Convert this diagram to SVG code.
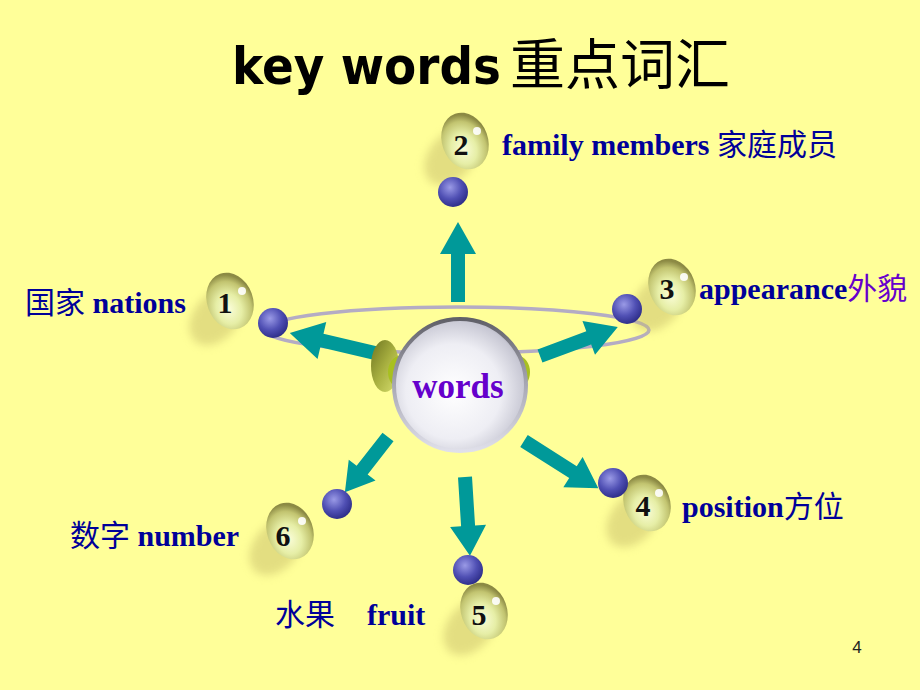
<svg xmlns="http://www.w3.org/2000/svg" width="920" height="690" viewBox="0 0 920 690">
  <defs>
    <style>
      .lbl { font-family: "Liberation Serif", "Noto Sans CJK SC", serif; font-weight: bold; font-size: 30px; fill: #000099; }
      .cjk { font-weight: normal; }
      .num { font-family: "Liberation Serif", serif; font-weight: bold; font-size: 30px; fill: #111; text-anchor: middle; }
      .arrow { fill: #009999; }
      .ball { fill: url(#ballGrad); }
    </style>
    <radialGradient id="ballGrad" cx="0.4" cy="0.35" r="0.7">
      <stop offset="0" stop-color="#9A9AE6"/>
      <stop offset="0.55" stop-color="#5050B4"/>
      <stop offset="1" stop-color="#2A2A84"/>
    </radialGradient>
    <radialGradient id="dropGrad" cx="0.42" cy="0.62" r="0.6">
      <stop offset="0" stop-color="#FAFDD8"/>
      <stop offset="0.45" stop-color="#E6EEA6"/>
      <stop offset="0.8" stop-color="#C2C470"/>
      <stop offset="1" stop-color="#8C8A44"/>
    </radialGradient>
    <radialGradient id="sphereGrad" cx="0.45" cy="0.55" r="0.6">
      <stop offset="0" stop-color="#FFFFFF"/>
      <stop offset="0.6" stop-color="#EEEEF4"/>
      <stop offset="0.9" stop-color="#C8C8D4"/>
      <stop offset="1" stop-color="#A8A8B4"/>
    </radialGradient>
    <linearGradient id="rimGrad" x1="0" y1="0" x2="0" y2="1">
      <stop offset="0" stop-color="#606068"/>
      <stop offset="0.5" stop-color="#A8A8B4"/>
      <stop offset="1" stop-color="#E0E0EA"/>
    </linearGradient>
    <linearGradient id="oliveGrad" x1="0" y1="0" x2="1" y2="1">
      <stop offset="0" stop-color="#6E7420"/>
      <stop offset="0.5" stop-color="#A8B040"/>
      <stop offset="1" stop-color="#D8E070"/>
    </linearGradient>
    <filter id="blur" x="-50%" y="-50%" width="200%" height="200%">
      <feGaussianBlur stdDeviation="4"/>
    </filter>
    <g id="drop">
      <ellipse cx="-14" cy="16" rx="22" ry="32" transform="rotate(40 -14 16)" fill="#C8BE6A" opacity="0.5" filter="url(#blur)"/>
      <ellipse cx="0" cy="0" rx="23" ry="29" transform="rotate(-20)" fill="url(#dropGrad)"/>
      <circle cx="12" cy="-10" r="4" fill="#FFFFFF" opacity="0.9"/>
    </g>
  </defs>

  <rect x="0" y="0" width="920" height="690" fill="#FFFF99"/>

  <g id="title">
    <text y="84" font-weight="bold" fill="#000">
      <tspan x="232" font-family="'DejaVu Sans', sans-serif" font-size="52" textLength="269" lengthAdjust="spacingAndGlyphs">key words</tspan>
      <tspan x="510" font-family="'Noto Sans CJK SC', sans-serif" font-size="55" font-weight="normal">重点词汇</tspan>
    </text>
  </g>

  <g id="orbit">
    <ellipse cx="457" cy="330" rx="192" ry="23" fill="none" stroke="#B4ACC4" stroke-width="3.5"/>
  </g>

  <g id="connectors">
    <path class="arrow" transform="translate(458,302) rotate(-90)" d="M0,-7 L48,-7 L48,-18 L80,0 L48,18 L48,7 L0,7 Z"/>
    <path class="arrow" transform="translate(392,357) rotate(193.2)" d="M0,-7 L72,-7 L72,-19 L105,0 L72,19 L72,7 L0,7 Z"/>
    <path class="arrow" transform="translate(540,356) rotate(-20.4)" d="M0,-7 L52,-7 L52,-18 L83,0 L52,18 L52,7 L0,7 Z"/>
    <path class="arrow" transform="translate(388,437) rotate(128)" d="M0,-7 L42,-7 L42,-17 L70,0 L42,17 L42,7 L0,7 Z"/>
    <path class="arrow" transform="translate(465,477) rotate(86.4)" d="M0,-7 L49,-7 L49,-18 L79,0 L49,18 L49,7 L0,7 Z"/>
    <path class="arrow" transform="translate(524,441) rotate(32.4)" d="M0,-7 L58,-7 L58,-18 L88,0 L58,18 L58,7 L0,7 Z"/>
  </g>

  <g id="center">
    <ellipse cx="385" cy="366" rx="14" ry="26" fill="url(#oliveGrad)"/>
    <ellipse cx="400" cy="372" rx="12" ry="16" fill="#A8C020"/>
    <ellipse cx="518" cy="372" rx="12" ry="16" fill="#A8C020"/>
    <circle cx="460" cy="385" r="66" fill="url(#sphereGrad)" stroke="url(#rimGrad)" stroke-width="4"/>
    <text x="458" y="398" text-anchor="middle" font-family="'Liberation Serif', serif" font-weight="bold" font-size="35" fill="#6600CC">words</text>
  </g>

  <g id="node2">
    <use href="#drop" x="465" y="141"/>
    <text class="num" x="461" y="155">2</text>
    <circle class="ball" cx="453" cy="192" r="15"/>
    <text class="lbl" x="502" y="155">family members <tspan class="cjk">家庭成员</tspan></text>
  </g>

  <g id="node1">
    <use href="#drop" x="230" y="301"/>
    <text class="num" x="225" y="313">1</text>
    <circle class="ball" cx="273" cy="323" r="15"/>
    <text class="lbl" x="25" y="313"><tspan class="cjk">国家</tspan> nations</text>
  </g>

  <g id="node3">
    <use href="#drop" x="672" y="287"/>
    <text class="num" x="667" y="299">3</text>
    <circle class="ball" cx="627" cy="309" r="15"/>
    <text class="lbl" x="699" y="299">appearance<tspan class="cjk" fill="#6600CC">外貌</tspan></text>
  </g>

  <g id="node4">
    <use href="#drop" x="647" y="503"/>
    <text class="num" x="643" y="516">4</text>
    <circle class="ball" cx="613" cy="483" r="15"/>
    <text class="lbl" x="682" y="517">position<tspan class="cjk">方位</tspan></text>
  </g>

  <g id="node6">
    <use href="#drop" x="290" y="531"/>
    <text class="num" x="283" y="546">6</text>
    <circle class="ball" cx="337" cy="504" r="15"/>
    <text class="lbl" x="70" y="546"><tspan class="cjk">数字</tspan> number</text>
  </g>

  <g id="node5">
    <use href="#drop" x="484" y="611"/>
    <text class="num" x="479" y="625">5</text>
    <circle class="ball" cx="468" cy="570" r="15"/>
    <text class="lbl cjk" x="275" y="625">水果</text>
    <text class="lbl" x="367" y="625">fruit</text>
  </g>

  <text x="857" y="653" text-anchor="middle" font-family="'Liberation Sans', sans-serif" font-size="17" fill="#222">4</text>
</svg>
